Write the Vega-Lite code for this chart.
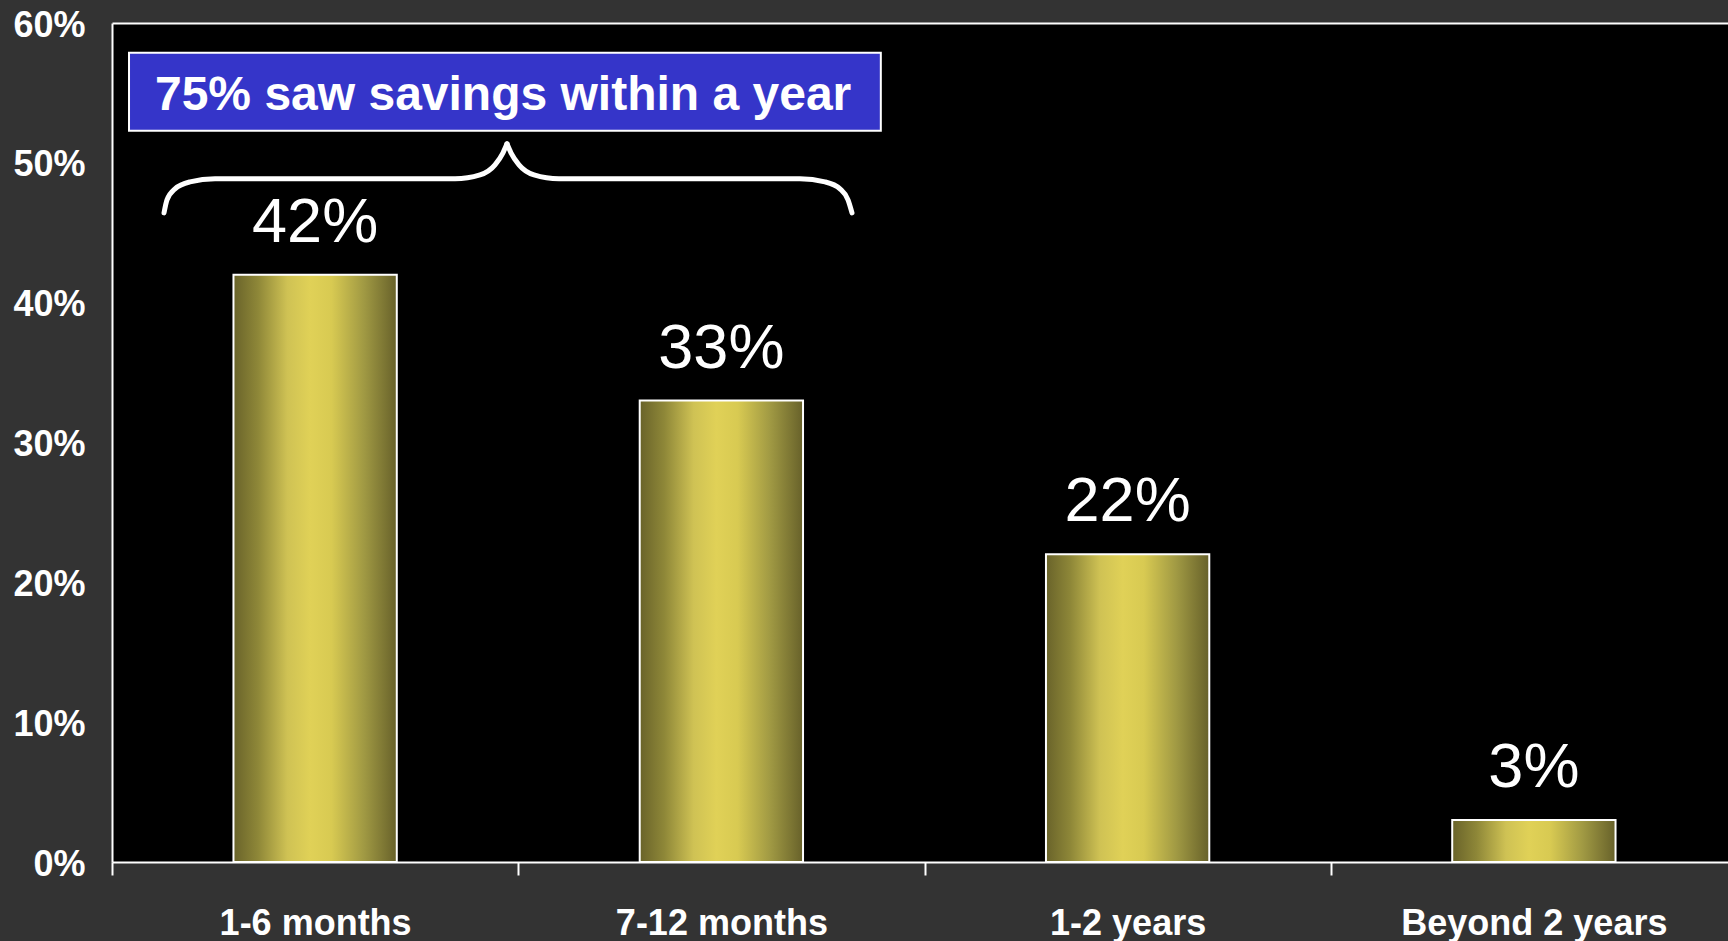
{
  "$schema": "https://vega.github.io/schema/vega-lite/v6.json",
  "width": 1616,
  "height": 839,
  "autosize": {"type": "none"},
  "padding": {"left": 112, "top": 23, "right": 0, "bottom": 79},
  "background": "#333333",
  "config": {
    "view": {"fill": "#000000", "stroke": null},
    "font": "Liberation Sans",
    "axis": {
      "labelFont": "Liberation Sans",
      "labelFontWeight": "bold",
      "labelColor": "#ffffff",
      "domainColor": "#ffffff",
      "domainWidth": 2,
      "tickColor": "#ffffff",
      "tickWidth": 2,
      "grid": false,
      "title": null,
      "labelLimit": 0
    },
    "axisBottom": {
      "tickSize": 13,
      "labelPadding": 59,
      "labelBaseline": "alphabetic",
      "labelFontSize": 36,
      "tickBand": "extent",
      "labelAngle": 0
    },
    "axisLeft": {
      "ticks": false,
      "labelPadding": 27,
      "labelFontSize": 36,
      "labelBaseline": "middle",
      "labelOffset": 2
    },
    "axisTop": {
      "labels": false,
      "ticks": false,
      "domainColor": "#ffffff",
      "domainWidth": 2
    }
  },
  "datasets": {
    "bars": [
      {"period": "1-6 months", "pct": 42, "label": "42%"},
      {"period": "7-12 months", "pct": 33, "label": "33%"},
      {"period": "1-2 years", "pct": 22, "label": "22%"},
      {"period": "Beyond 2 years", "pct": 3, "label": "3%"}
    ],
    "box": [
      {"u": 0.0418, "u2": 1.889, "v": 52.29, "v2": 57.87, "text": "75% saw savings within a year", "tu": 0.961, "tv": 53.79}
    ],
    "brace": [
      {"seg": "a", "u": 0.1278, "v": 46.42},
      {"seg": "a", "u": 0.1351, "v": 47.35},
      {"seg": "a", "u": 0.1548, "v": 48.14},
      {"seg": "a", "u": 0.1916, "v": 48.64},
      {"seg": "a", "u": 0.2531, "v": 48.86},
      {"seg": "a", "u": 0.8428, "v": 48.86},
      {"seg": "a", "u": 0.9042, "v": 49.14},
      {"seg": "a", "u": 0.941, "v": 49.86},
      {"seg": "a", "u": 0.9607, "v": 50.72},
      {"seg": "a", "u": 0.9705, "v": 51.36},
      {"seg": "b", "u": 0.9705, "v": 51.36},
      {"seg": "b", "u": 0.9803, "v": 50.72},
      {"seg": "b", "u": 1.0, "v": 49.86},
      {"seg": "b", "u": 1.0369, "v": 49.14},
      {"seg": "b", "u": 1.0983, "v": 48.86},
      {"seg": "b", "u": 1.6904, "v": 48.86},
      {"seg": "b", "u": 1.7518, "v": 48.64},
      {"seg": "b", "u": 1.7887, "v": 48.14},
      {"seg": "b", "u": 1.8084, "v": 47.35},
      {"seg": "b", "u": 1.8182, "v": 46.42}
    ]
  },
  "layer": [
    {
      "data": {"name": "bars"},
      "encoding": {
        "x": {
          "field": "period",
          "type": "nominal",
          "sort": null,
          "scale": {"paddingInner": 0, "paddingOuter": 0, "range": [0, 1625]},
          "axis": {"orient": "bottom"}
        },
        "y": {
          "field": "pct",
          "type": "quantitative",
          "scale": {"domain": [0, 60], "nice": false},
          "axis": {"values": [0, 10, 20, 30, 40, 50, 60], "labelExpr": "datum.value + '%'"}
        }
      },
      "layer": [
        {
          "mark": {
            "type": "bar",
            "width": {"band": 0.402},
            "stroke": "#ffffff",
            "strokeWidth": 2,
            "color": {
              "gradient": "linear",
              "x1": 0, "x2": 1, "y1": 0, "y2": 0,
              "stops": [
                {"offset": 0, "color": "#69632a"},
                {"offset": 0.15, "color": "#8e8738"},
                {"offset": 0.33, "color": "#cfc254"},
                {"offset": 0.47, "color": "#e0d157"},
                {"offset": 0.6, "color": "#d8ca52"},
                {"offset": 0.8, "color": "#a09943"},
                {"offset": 1, "color": "#67612a"}
              ]
            }
          }
        },
        {
          "mark": {
            "type": "text",
            "color": "#ffffff",
            "font": "Liberation Sans",
            "fontSize": 63,
            "baseline": "alphabetic",
            "align": "center",
            "dy": -33
          },
          "encoding": {"text": {"field": "label"}}
        }
      ]
    },
    {
      "layer": [
        {
          "data": {"name": "box"},
          "mark": {"type": "rect", "fill": "#3535c9", "stroke": "#ffffff", "strokeWidth": 2},
          "encoding": {
            "x": {"field": "u", "type": "quantitative", "scale": {"domain": [0, 4], "range": [0, 1628], "nice": false}, "axis": {"orient": "top"}},
            "x2": {"field": "u2"},
            "y": {"field": "v", "type": "quantitative", "scale": {"domain": [0, 60], "nice": false}, "axis": {"values": [0, 10, 20, 30, 40, 50, 60], "labelExpr": "datum.value + '%'"}},
            "y2": {"field": "v2"}
          }
        },
        {
          "data": {"name": "box"},
          "mark": {
            "type": "text",
            "color": "#ffffff",
            "font": "Liberation Sans",
            "fontWeight": "bold",
            "fontSize": 48,
            "baseline": "alphabetic",
            "align": "center"
          },
          "encoding": {
            "x": {"field": "tu", "type": "quantitative", "scale": {"domain": [0, 4], "range": [0, 1628], "nice": false}, "axis": {"orient": "top"}},
            "y": {"field": "tv", "type": "quantitative", "scale": {"domain": [0, 60], "nice": false}, "axis": {"values": [0, 10, 20, 30, 40, 50, 60], "labelExpr": "datum.value + '%'"}},
            "text": {"field": "text"}
          }
        },
        {
          "data": {"name": "brace"},
          "mark": {"type": "line", "color": "#ffffff", "strokeWidth": 5, "interpolate": "monotone", "strokeCap": "round"},
          "encoding": {
            "x": {"field": "u", "type": "quantitative", "scale": {"domain": [0, 4], "range": [0, 1628], "nice": false}, "axis": {"orient": "top"}},
            "y": {"field": "v", "type": "quantitative", "scale": {"domain": [0, 60], "nice": false}, "axis": {"values": [0, 10, 20, 30, 40, 50, 60], "labelExpr": "datum.value + '%'"}},
            "detail": {"field": "seg"}
          }
        }
      ]
    }
  ],
  "resolve": {"scale": {"x": "independent"}, "axis": {"x": "independent"}}
}
